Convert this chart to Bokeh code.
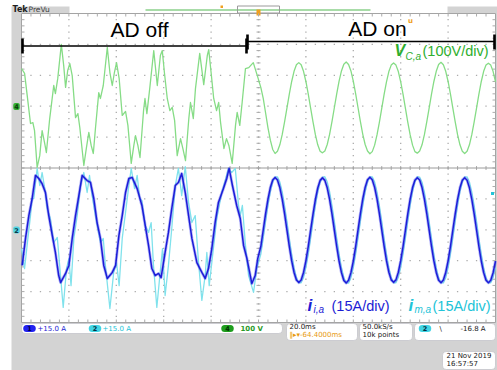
from bokeh.plotting import figure
from bokeh.models import Range1d, Label, BoxAnnotation
from bokeh.embed import file_html
from bokeh.resources import INLINE

# ---------------- channel settings (as shown on the scope) ----------------
TIME_PER_DIV_MS = 20.0
VOLT_PER_DIV = 100.0      # channel 4, v_C,a
AMP_PER_DIV = 15.0        # channels 1 and 2, i_i,a and i_m,a
CH4_OFFSET_DIV = 2.0
CH12_OFFSET_DIV = -2.0

# ---------------- data ----------------
green_off_t = [-100.0, -98.7, -97.6, -96.2, -95.2, -94.5, -93.4, -92.3, -91.3, -90.3,
               -89.5, -88.1, -86.9, -86.4, -85.7, -84.7, -83.2, -82.2, -81.4, -80.5,
               -79.6, -78.6, -77.2, -76.2, -75.4, -73.7, -72.6, -71.6, -70.6, -69.7,
               -68.8, -67.4, -66.7, -65.5, -63.8, -62.7, -61.7, -60.8, -59.9, -58.8,
               -57.5, -56.1, -55.1, -53.7, -52.6, -51.9, -50.9, -50.0, -48.5, -47.9,
               -47.1, -45.9, -44.2, -42.7, -41.4, -40.6, -39.7, -38.5, -37.4, -36.4,
               -35.4, -34.3, -32.9, -31.9, -30.8, -29.4, -28.7, -27.5, -26.6, -24.8,
               -23.1, -21.6, -21.0, -20.0, -18.9, -17.7, -16.8, -16.0, -14.6, -13.5,
               -12.5, -11.1, -9.7, -9.0, -7.9, -6.9, -5.5, -4.1, -2.2, -0.5]
green_off_v = [122, 106, 35, -56, -53, -79, -198, -160, -79, -117,
               -150, -40, 35, 67, 41, 90, 200, 132, 61, 116,
               138, 99, -37, -24, -69, -192, -134, -85, -127, -153,
               -72, 44, 25, 67, 190, 109, 67, 109, 141, 90,
               -30, -17, -62, -185, -127, -95, -127, -166, -14, 25,
               -24, 57, 180, 67, 164, 180, 109, 25, -14, -4,
               -46, -160, -105, -137, -176, -40, 12, -40, 57, 171,
               70, 164, 183, 109, 25, -14, 12, -53, -137, -105,
               -127, -185, -62, -20, -62, 12, 122, 125, 141, 99]

blue_off_t = [-99.7, -98.3, -96.9, -95.5, -94.1, -92.7, -91.3, -89.9, -88.5, -87.0,
              -85.7, -84.3, -83.5, -81.4, -80.0, -78.6, -77.2, -75.8, -74.4, -72.3,
              -70.9, -69.5, -68.1, -66.7, -65.3, -63.8, -61.7, -60.3, -58.9, -57.5,
              -56.1, -54.7, -53.3, -51.2, -49.2, -47.8, -46.4, -45.0, -43.6, -42.2,
              -41.1, -39.4, -38.0, -36.6, -35.1, -33.8, -32.4, -30.9, -29.5, -28.1,
              -26.0, -23.9, -22.5, -21.1, -19.7, -18.3, -16.9, -14.8, -13.4, -12.4,
              -11.0, -9.2, -7.7, -6.3, -4.9, -2.8, -1.4, -0.3]
blue_off_i = [-17.3, -4.2, 6.9, 15.2, 26.4, 24.9, 22.4, 18.1, 6.9, -2.8,
              -11.0, -22.2, -25.6, -21.2, -17.3, -4.2, 6.9, 16.6, 26.4, 23.9,
              23.0, 15.2, 3.5, -4.2, -17.3, -23.6, -20.7, -17.3, -2.8, 6.9,
              18.1, 24.9, 25.4, 20.0, 11.8, 2.1, -7.6, -18.8, -22.2, -21.2,
              -23.2, -11.0, -1.3, 10.3, 21.5, 23.0, 27.3, 18.1, 6.9, -4.2,
              -15.9, -20.7, -23.6, -18.8, -9.1, 3.5, 13.3, 20.0, 24.9, 29.8,
              21.5, 11.8, 5.5, -7.6, -13.9, -26.1, -22.2, -13.9]

cyan_off_t = [-100.0, -98.7, -97.3, -96.2, -95.5, -94.8, -93.4, -92.3, -91.3, -89.9,
              -89.2, -87.8, -86.4, -84.9, -84.0, -82.4, -81.0, -80.0, -79.1, -77.9,
              -76.5, -75.1, -73.7, -72.3, -71.3, -70.2, -68.8, -67.8, -66.7, -65.5,
              -64.6, -62.7, -61.1, -59.9, -58.8, -57.5, -56.1, -54.7, -53.7, -52.3,
              -51.2, -50.1, -49.2, -47.8, -46.4, -45.3, -44.3, -42.9, -41.5, -40.5,
              -39.4, -38.0, -36.6, -35.1, -33.8, -32.4, -30.9, -29.5, -28.1, -26.7,
              -25.3, -23.9, -22.5, -21.8, -20.8, -19.7, -17.6, -15.5, -13.8, -12.7,
              -11.3, -9.8, -8.4, -7.7, -6.8, -5.6, -4.2, -2.1, -0.7]
cyan_off_i = [-9.1, -18.8, -4.2, 6.9, 15.2, 15.2, 29.8, 21.5, 27.8, 18.1,
              10.3, 5.5, -6.2, -3.7, -15.9, -37.7, -18.8, -13.9, -27.1, -4.2,
              6.9, 21.5, 27.8, 18.1, 26.4, 16.6, 6.9, 0.6, -6.2, -4.2,
              -17.3, -38.2, -20.7, -15.9, -27.1, -4.2, 8.4, 21.5, 29.8, 20.0,
              26.4, 15.2, 14.2, 2.1, -1.3, 3.5, -17.3, -37.7, -20.7, -9.1,
              -31.9, -17.3, 0.6, 21.5, 29.8, 16.6, 30.7, 13.3, 3.5, 6.9,
              -15.9, -34.3, -22.2, -11.0, -27.1, -15.9, 5.5, 18.1, 24.9, 29.8,
              27.8, 29.8, 11.8, 6.9, 11.8, -6.2, -22.2, -30.4, -18.8]

t_on_ms = [1, 2, 3, 4, 5, 6, 7, 8, 9, 10, 11, 12, 13, 14, 15, 16, 17, 18, 19, 20,
           21, 22, 23, 24, 25, 26, 27, 28, 29, 30, 31, 32, 33, 34, 35, 36, 37, 38, 39, 40,
           41, 42, 43, 44, 45, 46, 47, 48, 49, 50, 51, 52, 53, 54, 55, 56, 57, 58, 59, 60,
           61, 62, 63, 64, 65, 66, 67, 68, 69, 70, 71, 72, 73, 74, 75, 76, 77, 78, 79, 80,
           81, 82, 83, 84, 85, 86, 87, 88, 89, 90, 91, 92, 93, 94, 95, 96, 97, 98, 99, 100]
green_on_v = [60, 25, -22, -70, -110, -140,
              -153, -146, -125, -92, -51, -6, 39, 80, 113, 134, 141, 134, 113, 80, 39, -6, -51, -92, -125, -146,
              -151, -145, -124, -91, -50, -5, 40, 81, 114, 136, 143, 135, 114, 81, 40, -5, -50, -91, -124, -145,
              -154, -147, -126, -93, -52, -7, 38, 79, 112, 133, 140, 133, 112, 79, 38, -7, -52, -93, -126, -147,
              -152, -145, -125, -92, -51, -6, 39, 80, 113, 135, 142, 134, 113, 80, 39, -6, -51, -92, -125, -146,
              -153, -146, -125, -92, -51, -6, 39, 80, 113, 133, 139, 133, 112, 79]
blue_on_i = [-8.0, -0.1, 7.8, 14.9, 20.5, 24.2, 25.4, 24.2, 20.5, 14.9, 7.8, -0.1, -8.0, -15.1, -20.7, -24.4, -25.6, -24.4, -20.7, -15.1,
             -8.1, -0.2, 7.6, 14.7, 20.3, 24.0, 25.2, 24.0, 20.4, 14.8, 7.7, -0.2, -8.1, -15.2, -20.8, -24.6, -25.8, -24.5, -20.8, -15.2,
             -8.0, 0.0, 7.9, 15.0, 20.6, 24.3, 25.5, 24.3, 20.6, 15.0, 7.9, 0.0, -7.9, -15.0, -20.6, -24.3, -25.5, -24.3, -20.6, -15.0,
             -8.0, -0.1, 7.8, 14.9, 20.5, 24.1, 25.3, 24.2, 20.5, 14.9, 7.8, -0.1, -8.0, -15.1, -20.7, -24.5, -25.7, -24.4, -20.7, -15.1,
             -8.1, -0.1, 7.7, 14.8, 20.4, 24.1, 25.3, 24.1, 20.4, 14.8, 7.7, -0.1, -8.1, -15.2, -20.8, -24.5, -25.7, -24.5, -20.8, -15.2]
cyan_on_i = [-11.8, -4.1, 4.1, 11.8, 18.4, 23.2, 25.7, 25.7, 23.2, 18.4, 11.8, 4.1, -4.1, -11.8, -18.4, -23.2, -25.7, -25.7, -23.2, -18.4,
             -11.9, -4.2, 4.0, 11.7, 18.3, 23.1, 25.6, 25.8, 23.3, 18.5, 11.9, 4.2, -4.0, -11.7, -18.3, -23.1, -25.8, -25.9, -23.3, -18.5,
             -11.8, -4.1, 4.1, 11.8, 18.4, 23.2, 25.7, 25.7, 23.2, 18.4, 11.8, 4.1, -4.1, -11.8, -18.4, -23.2, -25.7, -25.7, -23.2, -18.4,
             -11.7, -4.0, 4.2, 11.9, 18.5, 23.3, 25.8, 25.6, 23.1, 18.3, 11.7, 4.0, -4.2, -11.9, -18.5, -23.3, -25.6, -25.8, -23.3, -18.5,
             -11.8, -4.1, 4.1, 11.8, 18.4, 23.2, 25.7, 25.7, 23.2, 18.4, 11.8, 4.1, -4.1, -11.8, -18.4, -23.2, -25.7, -25.7, -23.2, -18.4]

# ---------------- layout (pixels of the 497 x 370 page) ----------------
W, H = 497, 370
L, R, T, B = 21.0, 495.0, 13.0, 322.0
NX = NY = 10
dx = (R - L) / NX
dy = (B - T) / NY
cx = (L + R) / 2
cy = (T + B) / 2

GREEN_TR = "#86dc86"
CYAN_TR = "#80e2ec"
BLUE_TR = "#1c1cd8"
GREEN_TX = "#2eae2e"
CYAN_TX = "#22c4d8"
BLUE_TX = "#1c1cd4"
BEZEL = "#d3d3d3"
GRID = "#ababab"

p = figure(width=W, height=H, x_range=Range1d(0, W), y_range=Range1d(H, 0),
           x_axis_location=None, y_axis_location=None, toolbar_location=None,
           output_backend="svg", min_border=0, outline_line_color=None,
           background_fill_color="white", border_fill_color="white")
p.grid.visible = False

t_start = -NX / 2 * TIME_PER_DIV_MS - (L - 0) / dx * TIME_PER_DIV_MS
t_end = NX / 2 * TIME_PER_DIV_MS + (W - R) / dx * TIME_PER_DIV_MS


def chan_range(offset_div, per_div):
    g = cy - offset_div * dy
    return Range1d((g - H) / dy * per_div, g / dy * per_div)


p.extra_x_ranges = {"t": Range1d(t_start, t_end)}
p.extra_y_ranges = {"v": chan_range(CH4_OFFSET_DIV, VOLT_PER_DIV),
                    "i": chan_range(CH12_OFFSET_DIV, AMP_PER_DIV)}

# ---- bezel and screen ----
p.quad(left=11, right=W, top=6, bottom=H, fill_color=BEZEL, line_color=None)
p.quad(left=69, right=447, top=5, bottom=T, fill_color="white", line_color=None)
p.quad(left=L, right=R, top=T, bottom=B, fill_color="white", line_color="#a4a4a4", line_width=1)

p.segment(x0=145, y0=9.5, x1=370, y1=9.5, line_color="#a8dca8", line_width=2)
p.quad(left=237, right=279, top=5.5, bottom=12.5, fill_color=None, line_color="#9a9a9a", line_width=1)
p.quad(left=256, right=260, top=9, bottom=15, fill_color="#f0a020", line_color=None)
p.quad(left=220, right=222.5, top=5, bottom=7.5, fill_color="#f0a020", line_color=None)

# ---- graticule ----
gx, gy = [], []
for k in range(1, NX):
    for j in range(1, NY * 5):
        gx.append(L + k * dx)
        gy.append(T + j * dy / 5)
for m in range(1, NY):
    if m == NY // 2:
        continue
    for j in range(1, NX * 5):
        gx.append(L + j * dx / 5)
        gy.append(T + m * dy)
p.scatter(gx, gy, marker="square", size=1.3, fill_color=GRID, line_color=None)

tx0, ty0, tx1, ty1 = [], [], [], []
for j in range(1, NY * 5):
    y = T + j * dy / 5
    for a, b in ((cx - 2, cx + 2), (L, L + 3), (R - 3, R)):
        tx0.append(a); tx1.append(b); ty0.append(y); ty1.append(y)
for j in range(1, NX * 5):
    x = L + j * dx / 5
    for a, b in ((cy - 2, cy + 2), (T, T + 3), (B - 3, B)):
        tx0.append(x); tx1.append(x); ty0.append(a); ty1.append(b)
p.segment(x0=tx0, y0=ty0, x1=tx1, y1=ty1, line_color=GRID, line_width=1)
p.segment(x0=L, y0=cy, x1=R, y1=cy, line_color="#9a9a9a", line_width=1)

# ---- traces ----
p.line(green_off_t + t_on_ms, green_off_v + green_on_v, x_range_name="t", y_range_name="v",
       line_color=GREEN_TR, line_width=1.3, line_join="round")
p.line(cyan_off_t + t_on_ms, cyan_off_i + cyan_on_i, x_range_name="t", y_range_name="i",
       line_color=CYAN_TR, line_width=1.3, line_join="round")
p.line(blue_off_t + t_on_ms, blue_off_i + blue_on_i, x_range_name="t", y_range_name="i",
       line_color="#5050ec", line_width=3.0, line_alpha=0.4, line_join="round")
p.line(blue_off_t + t_on_ms, blue_off_i + blue_on_i, x_range_name="t", y_range_name="i",
       line_color=BLUE_TR, line_width=1.5, line_join="round")

p.quad(left=490.5, right=493.5, top=191.5, bottom=194.5, fill_color=CYAN_TX, line_color=None)

# ---- AD off / AD on brackets ----
p.segment(x0=22, y0=45.5, x1=246, y1=45.5, line_color="black", line_width=1.6)
p.segment(x0=[22, 246], y0=[38, 38], x1=[22, 246], y1=[53, 53], line_color="black", line_width=2.6)
p.segment(x0=247, y0=41, x1=494, y1=41, line_color="black", line_width=1.6)
p.segment(x0=[247, 494], y0=[34, 34], x1=[247, 494], y1=[49, 49], line_color="black", line_width=2.6)


def txt(x, base, s, size, color="black", font="Liberation Sans", style="normal",
        align="left", **kw):
    """Place text so that its baseline sits at `base` (pixels from the top)."""
    p.add_layout(Label(x=x, y=base - 0.35 * size, text=s, text_font=font,
                       text_font_size=f"{size}px", text_color=color,
                       text_font_style=style, text_align=align,
                       text_baseline="middle", **kw))


def badge(x, yc, s, bg, fg, size=6.5, pad=(4, 1), radius=4):
    p.add_layout(Label(x=x, y=yc, text=s, text_font="DejaVu Sans", text_font_size=f"{size}px",
                       text_color=fg, text_font_style="bold", text_align="center",
                       text_baseline="middle", background_fill_color=bg,
                       border_radius=radius, padding=pad))


txt(139, 36, "AD off", 21, align="center")
txt(377, 35, "AD on", 21, align="center")
txt(410, 23, "u", 7, color="#f0a020", font="DejaVu Sans", style="bold", align="center")

txt(394, 56, "V", 16, color=GREEN_TX, style="bold italic")
txt(405, 59, "C,a", 10, color=GREEN_TX, style="italic")
txt(422, 56, "(100V/div)", 14.5, color=GREEN_TX)

txt(307, 311, "i", 17, color=BLUE_TX, style="bold italic")
txt(313, 312.5, "i,a", 10, color=BLUE_TX, style="italic")
txt(331, 311, "(15A/div)", 14.5, color=BLUE_TX)

txt(408, 311, "i", 17, color=CYAN_TX, style="bold italic")
txt(414, 312.5, "m,a", 10, color=CYAN_TX, style="italic")
txt(432, 311, "(15A/div)", 14.5, color=CYAN_TX)

txt(12, 12, "Tek", 8, color="#202020", font="DejaVu Sans", style="bold")
txt(28, 12, "PreVu", 7.5, color="#404040", font="DejaVu Sans")

badge(16, 106, "4", "#34b034", "#0a3a0a", pad=1, radius=2)
badge(16, 229.5, "2", "#52d4e2", "#0a3a4a", pad=1, radius=2)

for l, r, t, b in ((21, 282, 323, 333), (286, 357, 323, 340), (359, 412, 323, 340),
                   (414, 495, 323, 340), (442, 495, 351, 369)):
    p.add_layout(BoxAnnotation(left=l, right=r, top=t, bottom=b, fill_color="white", fill_alpha=1,
                               line_color="#8c8c9c", line_width=1, border_radius=4))

SF = "DejaVu Sans"
badge(29, 328, "1", "#2222f0", "#000040")
txt(37, 330.5, "+15.0 A", 7, color=BLUE_TX, font=SF)
badge(94.5, 328, "2", "#40d4e4", "#003040")
txt(102, 330.5, "+15.0 A", 7, color=CYAN_TX, font=SF)
badge(227, 328, "4", "#1e9e1e", "#003000")
txt(240, 330.5, "100 V", 7, color="#2a9a2a", font=SF, style="bold")

txt(289, 329, "20.0ms", 7, color="#202020", font=SF)
txt(289, 337, "‖▸▾-64.4000ms", 7, color="#e89a10", font=SF)
txt(362, 329, "50.0kS/s", 7, color="#202020", font=SF)
txt(362, 337, "10k points", 7, color="#202020", font=SF)
badge(424.5, 328, "2", "#40d4e4", "#003040")
txt(439, 330.5, "\\", 7, color="#202020", font=SF)
txt(460, 330.5, "-16.8 A", 7, color="#202020", font=SF)

txt(446, 358, "21 Nov 2019", 7, color="#202020", font=SF)
txt(446, 366, "16:57:57", 7, color="#202020", font=SF)

open("out.html", "w").write(file_html(p, INLINE))
